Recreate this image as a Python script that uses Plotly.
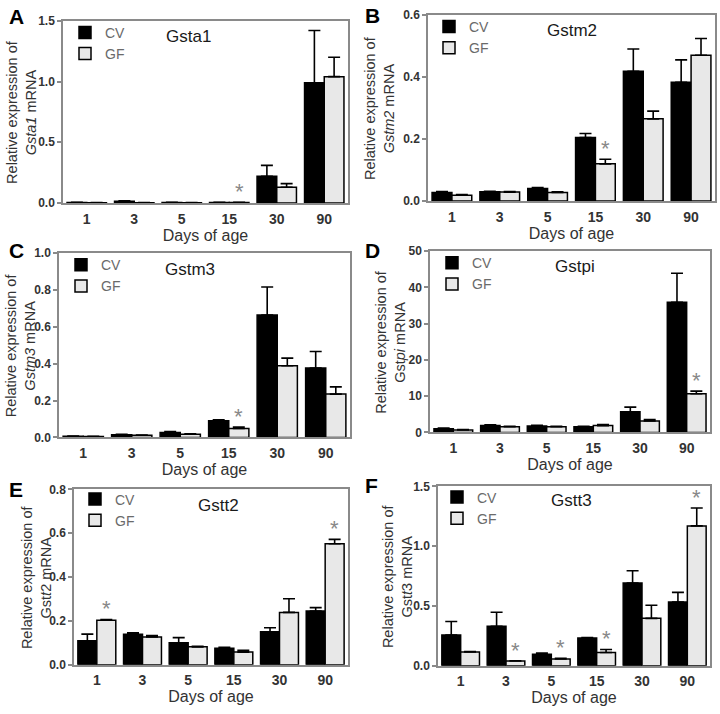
import plotly.graph_objects as go

days = ["1", "3", "5", "15", "30", "90"]

genes = ["Gsta1", "Gstm2", "Gstm3", "Gstpi", "Gstt2", "Gstt3"]
letters = ["A", "B", "C", "D", "E", "F"]
ytitle_gene = ["<i>Gsta1</i>", "<i>Gstm2</i>", "<i>Gstm3</i>", "Gst<i>pi</i>", "Gst<i>t</i>2", "Gst<i>t</i>3"]

# Panel A – Gsta1
a_cv = [0.005, 0.015, 0.005, 0.005, 0.22, 0.99]
a_cv_err = [0.002, 0.004, 0.002, 0.002, 0.09, 0.43]
a_gf = [0.003, 0.003, 0.003, 0.005, 0.13, 1.04]
a_gf_err = [0.001, 0.001, 0.001, 0.001, 0.03, 0.16]
a_sig = [0, 0, 0, 1, 0, 0]

# Panel B – Gstm2
b_cv = [0.028, 0.030, 0.041, 0.205, 0.418, 0.383]
b_cv_err = [0.003, 0.002, 0.003, 0.013, 0.072, 0.072]
b_gf = [0.019, 0.029, 0.028, 0.120, 0.265, 0.470]
b_gf_err = [0.002, 0.002, 0.002, 0.015, 0.025, 0.054]
b_sig = [0, 0, 0, 1, 0, 0]

# Panel C – Gstm3
c_cv = [0.006, 0.015, 0.027, 0.090, 0.664, 0.376]
c_cv_err = [0.001, 0.002, 0.005, 0.005, 0.152, 0.090]
c_gf = [0.005, 0.012, 0.017, 0.048, 0.389, 0.235]
c_gf_err = [0.001, 0.001, 0.002, 0.008, 0.041, 0.039]
c_sig = [0, 0, 0, 1, 0, 0]

# Panel D – Gstpi
d_cv = [1.0, 1.9, 1.8, 1.6, 5.7, 35.9]
d_cv_err = [0.2, 0.2, 0.2, 0.1, 1.3, 8.0]
d_gf = [0.7, 1.6, 1.6, 1.9, 3.2, 10.7]
d_gf_err = [0.1, 0.1, 0.1, 0.3, 0.4, 0.7]
d_sig = [0, 0, 0, 0, 0, 1]

# Panel E – Gstt2
e_cv = [0.110, 0.139, 0.101, 0.076, 0.151, 0.245]
e_cv_err = [0.030, 0.007, 0.023, 0.004, 0.018, 0.016]
e_gf = [0.203, 0.127, 0.082, 0.058, 0.239, 0.552]
e_gf_err = [0.004, 0.006, 0.003, 0.008, 0.062, 0.020]
e_sig = [1, 0, 0, 0, 0, 1]

# Panel F – Gstt3
f_cv = [0.258, 0.330, 0.096, 0.233, 0.693, 0.534]
f_cv_err = [0.112, 0.118, 0.011, 0.004, 0.102, 0.080]
f_gf = [0.115, 0.041, 0.058, 0.112, 0.397, 1.17]
f_gf_err = [0.005, 0.002, 0.004, 0.025, 0.110, 0.150]
f_sig = [0, 1, 1, 1, 0, 1]

y_max = [1.5, 0.6, 1.0, 50, 0.8, 1.5]
y_dtick = [0.5, 0.2, 0.2, 10, 0.2, 0.5]
y_fmt = [".1f", ".1f", ".1f", "d", ".1f", ".1f"]

panels = [
    (a_cv, a_cv_err, a_gf, a_gf_err, a_sig),
    (b_cv, b_cv_err, b_gf, b_gf_err, b_sig),
    (c_cv, c_cv_err, c_gf, c_gf_err, c_sig),
    (d_cv, d_cv_err, d_gf, d_gf_err, d_sig),
    (e_cv, e_cv_err, e_gf, e_gf_err, e_sig),
    (f_cv, f_cv_err, f_gf, f_gf_err, f_sig),
]

W, H = 720, 714
BARGAP = 0.17
# plot-area boxes in pixels: left, right, top, bottom
boxes = [
    (63, 348, 14, 200),
    (428, 715, 8, 198),
    (59, 350, 251, 439),
    (430, 710, 249, 434),
    (74, 348, 492, 671),
    (438, 710, 489, 672),
]
letter_pos = [(7, 10), (363, 9), (7, 248), (363, 248), (7, 492), (363, 488)]
gene_pos = [(188, 30), (572, 24), (190, 268), (575, 265), (219, 508), (571, 503)]
# legend: swatch centre x, first-row centre y
legend_pos = [(85, 28), (449, 22), (81, 265), (452, 263), (95, 504), (457, 502)]
ytitle_x = [22, 380, 20, 391, 36, 397]

FONT = "Arial, Liberation Sans, sans-serif"
frame = "#8a8a8a"
txt = "#333333"

fig = go.Figure()
layout = dict(
    width=W, height=H, margin=dict(l=0, r=0, t=0, b=0),
    paper_bgcolor="white", plot_bgcolor="white",
    barmode="group", bargap=BARGAP, bargroupgap=0.0,
    font=dict(family=FONT, color=txt),
    showlegend=True,
)
annotations = []

def px(x):
    return x / W

def py(y):
    return 1 - y / H

for i, (cv, cve, gf, gfe, sig) in enumerate(panels):
    n = i + 1
    xa = "x" if n == 1 else f"x{n}"
    ya = "y" if n == 1 else f"y{n}"
    lg = "legend" if n == 1 else f"legend{n}"
    fig.add_trace(go.Bar(
        x=days, y=cv, name="CV", xaxis=xa, yaxis=ya, legend=lg,
        marker=dict(color="black", line=dict(color="black", width=1.5)),
        error_y=dict(type="data", array=cve, arrayminus=[0] * len(cve), symmetric=False,
                     color="black", thickness=1.6, width=6),
    ))
    fig.add_trace(go.Bar(
        x=days, y=gf, name="GF", xaxis=xa, yaxis=ya, legend=lg,
        marker=dict(color="#e8e8e8", line=dict(color="black", width=1.5)),
        error_y=dict(type="data", array=gfe, arrayminus=[0] * len(gfe), symmetric=False,
                     color="black", thickness=1.6, width=6),
    ))
    l, r, t, b = boxes[i]
    layout["xaxis" if n == 1 else f"xaxis{n}"] = dict(
        domain=[px(l), px(r)], anchor=ya, type="category",
        categoryorder="array", categoryarray=days, range=[-0.5, len(days) - 0.5],
        showline=True, linecolor=frame, linewidth=1.5, mirror=True,
        ticks="", showgrid=False, zeroline=False, tickangle=0, ticklabelstandoff=2,
        tickfont=dict(size=14, color=txt, family=FONT, weight="bold"),
        title=dict(text="Days of age", font=dict(size=16, color=txt, family=FONT), standoff=0),
    )
    layout["yaxis" if n == 1 else f"yaxis{n}"] = dict(
        domain=[py(b), py(t)], anchor=xa, range=[0, y_max[i]], dtick=y_dtick[i],
        tickformat=y_fmt[i],
        showline=True, linecolor=frame, linewidth=1.5, mirror=True,
        ticks="outside", ticklen=4, tickcolor=frame, tickwidth=1.5,
        showgrid=False, zeroline=False,
        tickfont=dict(size=12, color=txt, family=FONT, weight="bold"),
    )
    lx, lyy = legend_pos[i]
    layout[lg] = dict(
        x=px(lx - 20), y=py(lyy - 18), xanchor="left", yanchor="top", xref="paper", yref="paper",
        bgcolor="rgba(0,0,0,0)", font=dict(size=14, color="#6a6a6a", family=FONT),
        tracegroupgap=0, itemwidth=30, borderwidth=0,
    )
    ltx, lty = letter_pos[i]
    annotations.append(dict(text=f"<b>{letters[i]}</b>", x=px(ltx), y=py(lty), xref="paper", yref="paper",
                            xanchor="left", yanchor="middle", showarrow=False,
                            font=dict(size=21, color="black", family=FONT)))
    gx, gy = gene_pos[i]
    annotations.append(dict(text=genes[i], x=px(gx), y=py(gy), xref="paper", yref="paper",
                            xanchor="center", yanchor="middle", showarrow=False,
                            font=dict(size=17, color="#1a1a1a", family=FONT)))
    annotations.append(dict(text=f"Relative expression of<br>{ytitle_gene[i]} mRNA",
                            x=px(ytitle_x[i]), y=py((t + b) / 2), xref="paper", yref="paper",
                            xanchor="center", yanchor="middle", textangle=-90, showarrow=False,
                            font=dict(size=14.5, color=txt, family=FONT)))
    gf_offset = (1 - BARGAP) / 4
    for j, s in enumerate(sig):
        if s:
            annotations.append(dict(text="*", x=j + gf_offset, y=gf[j] + gfe[j], xref=xa, yref=ya,
                                    xanchor="center", yanchor="bottom", yshift=-4,
                                    showarrow=False, font=dict(size=22, color="#888888", family=FONT)))

layout["annotations"] = annotations
fig.update_layout(**layout)
fig.write_html("out.html", config={"displayModeBar": False},
               post_script="document.body.style.margin='0';document.body.style.overflow='hidden';")
